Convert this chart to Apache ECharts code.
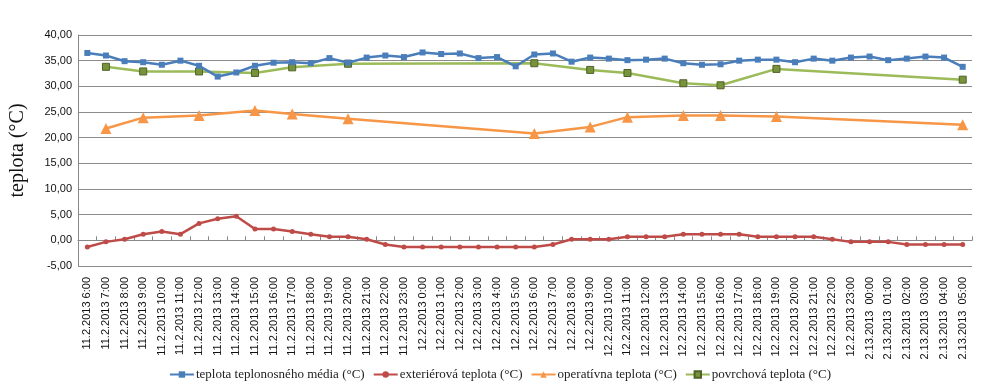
<!DOCTYPE html>
<html>
<head>
<meta charset="utf-8">
<script src="https://cdn.jsdelivr.net/npm/echarts@6/dist/echarts.min.js"></script>
<style>html,body{margin:0;padding:0;background:#fff}#c{width:1000px;height:388px}</style>
</head>
<body>
<div id="c"></div>
<script>
const categories = [
  "11.2.2013 6:00","11.2.2013 7:00","11.2.2013 8:00","11.2.2013 9:00","11.2.2013 10:00","11.2.2013 11:00",
  "11.2.2013 12:00","11.2.2013 13:00","11.2.2013 14:00","11.2.2013 15:00","11.2.2013 16:00","11.2.2013 17:00",
  "11.2.2013 18:00","11.2.2013 19:00","11.2.2013 20:00","11.2.2013 21:00","11.2.2013 22:00","11.2.2013 23:00",
  "12.2.2013 0:00","12.2.2013 1:00","12.2.2013 2:00","12.2.2013 3:00","12.2.2013 4:00","12.2.2013 5:00",
  "12.2.2013 6:00","12.2.2013 7:00","12.2.2013 8:00","12.2.2013 9:00","12.2.2013 10:00","12.2.2013 11:00",
  "12.2.2013 12:00","12.2.2013 13:00","12.2.2013 14:00","12.2.2013 15:00","12.2.2013 16:00","12.2.2013 17:00",
  "12.2.2013 18:00","12.2.2013 19:00","12.2.2013 20:00","12.2.2013 21:00","12.2.2013 22:00","12.2.2013 23:00",
  "2.13.2013  00:00","2.13.2013  01:00","2.13.2013  02:00","2.13.2013  03:00","2.13.2013  04:00","2.13.2013  05:00"
];
const medium = [36.5,36.0,34.9,34.7,34.2,35.0,34.0,31.9,32.7,34.0,34.6,34.7,34.5,35.5,34.6,35.6,36.0,35.7,
  36.6,36.3,36.4,35.5,35.7,33.9,36.2,36.4,34.8,35.6,35.4,35.1,35.2,35.4,34.5,34.2,34.3,35.0,35.2,35.2,34.7,35.4,35.0,35.6,
  35.8,35.1,35.4,35.8,35.6,33.8];
const exterior = [-1.3,-0.3,0.2,1.2,1.7,1.2,3.3,4.2,4.7,2.2,2.2,1.7,1.2,0.7,0.7,0.2,-0.8,-1.3,
  -1.3,-1.3,-1.3,-1.3,-1.3,-1.3,-1.3,-0.8,0.2,0.2,0.2,0.7,0.7,0.7,1.2,1.2,1.2,1.2,0.7,0.7,0.7,0.7,0.2,-0.3,
  -0.3,-0.3,-0.8,-0.8,-0.8,-0.8];
const operative = [null,21.8,null,23.9,null,null,24.3,null,null,25.3,null,24.6,null,null,23.7,null,null,null,
  null,null,null,null,null,null,20.8,null,null,22.1,null,24.0,null,null,24.3,null,24.3,null,null,24.1,null,null,null,null,
  null,null,null,null,null,22.5];
const surface = [null,33.8,null,32.9,null,null,32.9,null,null,32.6,null,33.7,null,null,34.4,null,null,null,
  null,null,null,null,null,null,34.5,null,null,33.2,null,32.6,null,null,30.6,null,30.2,null,null,33.4,null,null,null,null,
  null,null,null,null,null,31.3];
const seriesNames = ["teplota teplonosného média (°C)","exteriérová teplota (°C)","operatívna teplota (°C)","povrchová teplota (°C)"];
const yTicks = {min:-5, max:40, interval:5};

const chart = echarts.init(document.getElementById('c'), null, {renderer:'canvas'});
const fmt = v => v.toFixed(2).replace('.', ',');
chart.setOption({
  animation:false,
  grid:{left:76, right:28, top:35, bottom:122},
  legend:{
    bottom:2, left:'center', itemGap:8, itemWidth:24, itemHeight:8,
    textStyle:{fontFamily:'Liberation Serif', fontSize:13, color:'#222', padding:[0,0,0,-3]},
    data:seriesNames
  },
  xAxis:[{
    type:'category', data:categories, boundaryGap:true,
    axisLine:{show:false, onZero:false}, axisTick:{show:false},
    axisLabel:{rotate:90, interval:0, fontFamily:'Liberation Sans', fontSize:11, color:'#111', margin:11}
  },{
    type:'category', data:categories, boundaryGap:true,
    axisLine:{show:true, onZero:true, lineStyle:{color:'#888', width:1}},
    axisTick:{show:true, interval:0, length:4, lineStyle:{color:'#888'}},
    axisLabel:{show:false}
  }],
  yAxis:{
    type:'value', min:yTicks.min, max:yTicks.max, interval:yTicks.interval,
    name:'teplota (°C)', nameLocation:'middle', nameGap:50, nameRotate:90,
    nameTextStyle:{fontFamily:'Liberation Serif', fontSize:20, color:'#111'},
    axisLine:{show:true, lineStyle:{color:'#888'}},
    axisTick:{show:false},
    axisLabel:{formatter:fmt, fontFamily:'Liberation Sans', fontSize:11, color:'#111', margin:6},
    splitLine:{lineStyle:{color:'#8c8c8c', width:1}}
  },
  series:[
    {name:seriesNames[0], type:'line', data:medium, symbol:'rect', symbolSize:6,
     lineStyle:{color:'#4a7ebb', width:2.5}, itemStyle:{color:'#4a7ebb'}, z:4},
    {name:seriesNames[1], type:'line', data:exterior, symbol:'circle', symbolSize:5,
     lineStyle:{color:'#be4b48', width:2.5}, itemStyle:{color:'#be4b48'}, z:3},
    {name:seriesNames[2], type:'line', data:operative, connectNulls:true, symbol:'triangle', symbolSize:11,
     lineStyle:{color:'#f79646', width:2.5}, itemStyle:{color:'#f79646'}, z:2},
    {name:seriesNames[3], type:'line', data:surface, connectNulls:true, symbol:'rect', symbolSize:7,
     lineStyle:{color:'#9bbb59', width:2.5}, itemStyle:{color:'#77933c', borderColor:'#4f6228', borderWidth:1}, z:2}
  ]
});
</script>
</body>
</html>
